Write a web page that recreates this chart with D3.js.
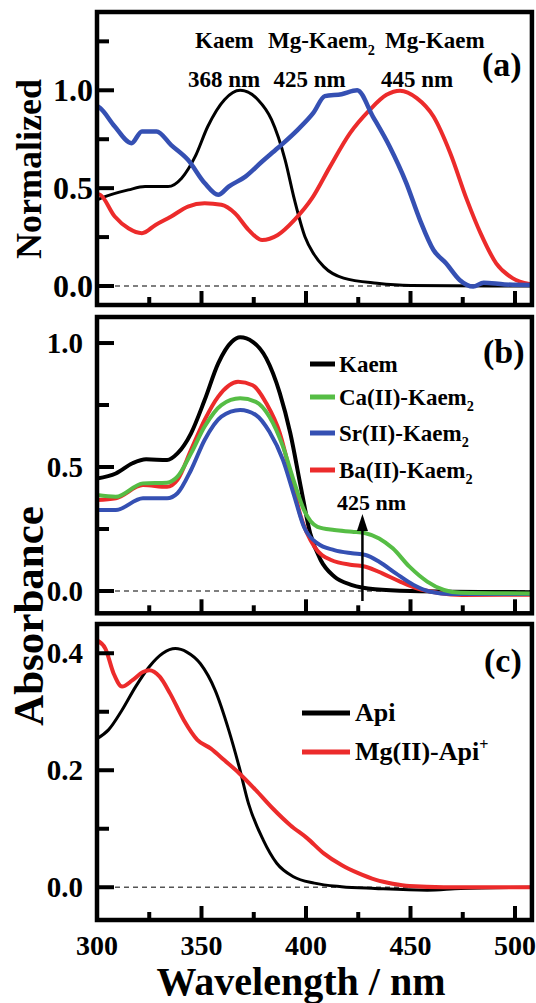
<!DOCTYPE html>
<html><head><meta charset="utf-8">
<script src="https://cdn.jsdelivr.net/npm/d3@7"></script>
<style>
body{margin:0;background:#fff}
svg{display:block}
</style>
</head><body>
<svg id="chart" width="536" height="1003"></svg>
<script>
// ---------- DATA ----------
const xMajorTicks = [300, 350, 400, 450, 500];
const xMinorTicks = [325, 375, 425, 475];
const xLimits = [300, 508.1];

// Panel (a) normalized spectra
const aKaemWl = [300, 302, 315, 323, 334, 340.5, 347, 353, 361, 368.5, 377, 383.5, 390, 394.5, 399.5, 403.5, 408.5, 418, 434, 450, 508];
const aKaemVal = [0.44, 0.449, 0.491, 0.508, 0.508, 0.551, 0.662, 0.815, 0.952, 1.0, 0.952, 0.85, 0.645, 0.44, 0.252, 0.167, 0.099, 0.04, 0.014, 0.003, 0.0];
const aMgKaem2Wl = [300, 301.5, 308.5, 316.5, 321.5, 328.5, 335.5, 343.5, 351.5, 358, 363, 371, 379, 386.5, 396, 403.5, 409, 417, 424.5, 432, 440, 448, 454.5, 461, 467, 473.5, 480, 485, 495, 508];
const aMgKaem2Val = [0.92, 0.909, 0.815, 0.73, 0.79, 0.79, 0.72, 0.645, 0.526, 0.466, 0.508, 0.559, 0.636, 0.705, 0.798, 0.884, 0.97, 0.98, 1.0, 0.866, 0.713, 0.526, 0.338, 0.184, 0.116, 0.031, -0.003, 0.017, 0.008, 0.005];
const aMgKaemWl = [300, 301.5, 308.5, 315, 321.5, 328, 335.5, 343.5, 351.5, 359.5, 366, 372.5, 379, 386.5, 394.5, 403, 411.5, 421, 430.5, 438.5, 445, 453, 461, 469, 477, 483.5, 491, 499, 507, 508];
const aMgKaemVal = [0.47, 0.466, 0.355, 0.295, 0.27, 0.312, 0.355, 0.406, 0.423, 0.415, 0.372, 0.287, 0.235, 0.261, 0.338, 0.45, 0.61, 0.78, 0.90, 0.977, 0.998, 0.96, 0.866, 0.68, 0.44, 0.27, 0.116, 0.039, 0.01, 0.008];

// Panel (b) absorbance
const bKaemWl = [300, 309, 317, 323.5, 333.5, 338.5, 345, 351.5, 358, 364.5, 368.5, 374.5, 381, 387.5, 392.5, 397.5, 402, 407, 413.5, 422, 433, 450, 508];
const bKaemVal = [0.454, 0.474, 0.515, 0.531, 0.528, 0.555, 0.636, 0.77, 0.918, 1.005, 1.023, 1.005, 0.938, 0.797, 0.636, 0.42, 0.233, 0.125, 0.058, 0.024, 0.007, 0.0, -0.005];
const bCaWl = [300, 309, 322, 333.5, 338.5, 345, 351.5, 359.5, 368.5, 376, 382.5, 389, 394, 399, 405.5, 413.5, 422, 428.5, 435, 441.5, 449.5, 458, 466, 474, 508];
const bCaVal = [0.387, 0.38, 0.434, 0.437, 0.461, 0.555, 0.663, 0.75, 0.777, 0.763, 0.703, 0.582, 0.448, 0.327, 0.259, 0.246, 0.239, 0.233, 0.212, 0.172, 0.098, 0.038, 0.004, -0.007, -0.01];
const bSrWl = [300, 309, 322, 333.5, 338.5, 345, 351.5, 359.5, 368.5, 376, 382.5, 389, 394, 399, 405.5, 413.5, 422, 428.5, 435, 443, 451.5, 459.5, 469.5, 508];
const bSrVal = [0.327, 0.327, 0.374, 0.374, 0.394, 0.488, 0.609, 0.703, 0.73, 0.71, 0.642, 0.528, 0.394, 0.259, 0.192, 0.165, 0.152, 0.145, 0.118, 0.071, 0.024, -0.003, -0.012, -0.012];
const bBaWl = [300, 309, 322, 333.5, 338.5, 345, 351.5, 358, 367.5, 374.5, 381, 387.5, 392.5, 397.5, 404, 412, 422, 428.5, 436.5, 445, 453, 463, 474.5, 508];
const bBaVal = [0.367, 0.374, 0.427, 0.42, 0.448, 0.569, 0.69, 0.784, 0.844, 0.83, 0.757, 0.636, 0.474, 0.30, 0.179, 0.125, 0.105, 0.098, 0.071, 0.038, 0.011, -0.007, -0.016, -0.015];

// Panel (c) absorbance
const cApiWl = [300, 305.5, 312, 318.5, 325, 331.5, 337.5, 343, 349.5, 356.5, 363, 368, 372.5, 379.5, 386, 394, 404, 417, 433, 458, 474, 508];
const cApiVal = [0.254, 0.269, 0.303, 0.343, 0.377, 0.40, 0.408, 0.402, 0.382, 0.337, 0.269, 0.206, 0.143, 0.081, 0.041, 0.018, 0.007, 0.001, -0.002, -0.005, -0.002, 0.0];
const cMgApiWl = [300, 304, 308, 312, 317, 322, 325, 330, 335, 341.5, 348, 354.5, 361, 368, 376, 384, 392.5, 400.5, 408.5, 417, 425, 433.5, 441.5, 449.5, 466, 508];
const cMgApiVal = [0.422, 0.408, 0.365, 0.343, 0.354, 0.368, 0.371, 0.36, 0.331, 0.286, 0.252, 0.237, 0.217, 0.195, 0.166, 0.135, 0.106, 0.084, 0.058, 0.038, 0.024, 0.0125, 0.006, 0.002, 0.0, 0.0];

// Tick definitions
const aYMajor = [0, 0.5, 1.0], aYMinor = [0.25, 0.75, 1.25], aYLim = [-0.097, 1.40];
const bYMajor = [0, 0.5, 1.0], bYMinor = [0.25, 0.75], bYLim = [-0.09, 1.105];
const cYMajor = [0, 0.2, 0.4], cYMinor = [0.1, 0.3], cYLim = [-0.056, 0.45];

const bLegendNames = ["Kaem", "Ca(II)-Kaem", "Sr(II)-Kaem", "Ba(II)-Kaem"];
const bLegendSub = ["", "2", "2", "2"];
const cLegendNames = ["Api", "Mg(II)-Api"];
const cLegendSup = ["", "+"];

// ---------- STYLE ----------
const FONT = "'Liberation Serif', 'LiberationSerif', Tinos, 'Times New Roman', Times, 'Nimbus Roman', serif";
const BLACK = "#000000", BLUE = "#3550b3", RED = "#ec2b2b", GREEN = "#56bd45";

// ---------- DRAW ----------
const svg = d3.select("#chart")
  .attr("font-family", FONT).attr("font-weight", "bold");
const x = d3.scaleLinear().domain([300, 500]).range([97, 515]);

const panels = [
  {top: 12, bottom: 305, lim: aYLim, major: aYMajor, minor: aYMinor, labelRight: 93, labelSize: 32,
   series: [
     {wl: aKaemWl, v: aKaemVal, c: BLACK, w: 3},
     {wl: aMgKaemWl, v: aMgKaemVal, c: RED, w: 4},
     {wl: aMgKaem2Wl, v: aMgKaem2Val, c: BLUE, w: 4.5}
   ]},
  {top: 317, bottom: 613.3, lim: bYLim, major: bYMajor, minor: bYMinor, labelRight: 83, labelSize: 29,
   series: [
     {wl: bKaemWl, v: bKaemVal, c: BLACK, w: 4},
     {wl: bBaWl, v: bBaVal, c: RED, w: 4},
     {wl: bSrWl, v: bSrVal, c: BLUE, w: 4},
     {wl: bCaWl, v: bCaVal, c: GREEN, w: 4}
   ]},
  {top: 624, bottom: 920, lim: cYLim, major: cYMajor, minor: cYMinor, labelRight: 83, labelSize: 29,
   series: [
     {wl: cApiWl, v: cApiVal, c: BLACK, w: 3},
     {wl: cMgApiWl, v: cMgApiVal, c: RED, w: 4}
   ]}
];

const fmt = d3.format(".1f");
const xl = x(xLimits[0]), xr = x(xLimits[1]);

function txt(parent, xx, yy, size) {
  return parent.append("text").attr("x", xx).attr("y", yy).attr("font-size", size)
    .attr("font-family", FONT).attr("font-weight", "bold").attr("fill", "#000");
}

panels.forEach((p, i) => {
  const y = d3.scaleLinear().domain(p.lim).range([p.bottom, p.top]);
  const g = svg.append("g");
  const clipId = "clip" + i;
  svg.append("clipPath").attr("id", clipId).append("rect")
    .attr("x", xl).attr("y", p.top).attr("width", xr - xl).attr("height", p.bottom - p.top);

  g.append("line").attr("x1", xl).attr("x2", xr).attr("y1", y(0)).attr("y2", y(0))
    .attr("stroke", "#555").attr("stroke-width", 1.3).attr("stroke-dasharray", "5 4");

  const cg = g.append("g").attr("clip-path", `url(#${clipId})`);
  p.series.forEach(s => {
    const pts = s.wl.map((w, k) => [w, s.v[k]]);
    const line = d3.line().x(d => x(d[0])).y(d => y(d[1])).curve(d3.curveMonotoneX);
    cg.append("path").attr("d", line(pts)).attr("fill", "none")
      .attr("stroke", s.c).attr("stroke-width", s.w).attr("stroke-linejoin", "round").attr("stroke-linecap", "round");
  });

  p.major.forEach(t => g.append("line").attr("x1", xl).attr("x2", xl + 17).attr("y1", y(t)).attr("y2", y(t))
    .attr("stroke", "#000").attr("stroke-width", 4));
  p.minor.forEach(t => g.append("line").attr("x1", xl).attr("x2", xl + 12).attr("y1", y(t)).attr("y2", y(t))
    .attr("stroke", "#000").attr("stroke-width", 4));
  xMajorTicks.forEach(t => g.append("line").attr("x1", x(t)).attr("x2", x(t)).attr("y1", p.bottom).attr("y2", p.bottom - 14)
    .attr("stroke", "#000").attr("stroke-width", 4));
  xMinorTicks.forEach(t => g.append("line").attr("x1", x(t)).attr("x2", x(t)).attr("y1", p.bottom).attr("y2", p.bottom - 8)
    .attr("stroke", "#000").attr("stroke-width", 4));

  p.major.forEach(t => txt(g, p.labelRight, y(t), p.labelSize).attr("dy", "0.34em")
    .attr("text-anchor", "end").text(fmt(t)));

  g.append("rect").attr("x", xl).attr("y", p.top).attr("width", xr - xl).attr("height", p.bottom - p.top)
    .attr("fill", "none").attr("stroke", "#000").attr("stroke-width", 4.5);
});

xMajorTicks.forEach(t => txt(svg, x(t), 955, 28).attr("text-anchor", "middle").text(t));

txt(svg, 0, 0, 36).attr("transform", "translate(41,169) rotate(-90)").attr("text-anchor", "middle").text("Normalized");
txt(svg, 0, 0, 43).attr("transform", "translate(43,616) rotate(-90)").attr("text-anchor", "middle").text("Absorbance");
txt(svg, 301, 995, 40).attr("text-anchor", "middle").text("Wavelength / nm");

function richText(parent, xx, yy, size, main, sub, sup) {
  const t = txt(parent, xx, yy, size);
  t.append("tspan").text(main);
  if (sub) t.append("tspan").attr("font-size", size * 0.62).attr("dy", size * 0.3).text(sub);
  if (sup) t.append("tspan").attr("font-size", size * 0.62).attr("dy", -size * 0.4).text(sup);
  return t;
}

// panel (a) annotations
richText(svg, 195, 48, 23, "Kaem");
richText(svg, 268, 48, 23, "Mg-Kaem", "2");
richText(svg, 385, 48, 23, "Mg-Kaem");
richText(svg, 188, 86.5, 23, "368 nm");
richText(svg, 273.5, 86.5, 23, "425 nm");
richText(svg, 381, 86.5, 23, "445 nm");
richText(svg, 482, 76, 34, "(a)");

// panel (b)
richText(svg, 483, 363, 34, "(b)");
const bColors = [BLACK, GREEN, BLUE, RED];
const bRowsY = [364, 397, 433, 470];
bLegendNames.forEach((n, k) => {
  svg.append("line").attr("x1", 310).attr("x2", 335).attr("y1", bRowsY[k]).attr("y2", bRowsY[k])
    .attr("stroke", bColors[k]).attr("stroke-width", 5);
  richText(svg, 339, bRowsY[k] + 7.5, 23, n, bLegendSub[k]);
});
richText(svg, 337, 510, 22, "425 nm");
const ax = x(427);
svg.append("line").attr("x1", ax).attr("x2", ax).attr("y1", 601).attr("y2", 528)
  .attr("stroke", "#000").attr("stroke-width", 2.5);
svg.append("path").attr("d", `M${ax},514 L${ax - 5.5},531 L${ax + 5.5},531 Z`).attr("fill", "#000");

// panel (c)
richText(svg, 484, 672, 34, "(c)");
const cColors = [BLACK, RED];
const cRowsY = [713, 752];
cLegendNames.forEach((n, k) => {
  svg.append("line").attr("x1", 302).attr("x2", 350).attr("y1", cRowsY[k]).attr("y2", cRowsY[k])
    .attr("stroke", cColors[k]).attr("stroke-width", 5);
  richText(svg, 355, cRowsY[k] + 8, 26, n, null, cLegendSup[k]);
});
</script>
</body></html>
